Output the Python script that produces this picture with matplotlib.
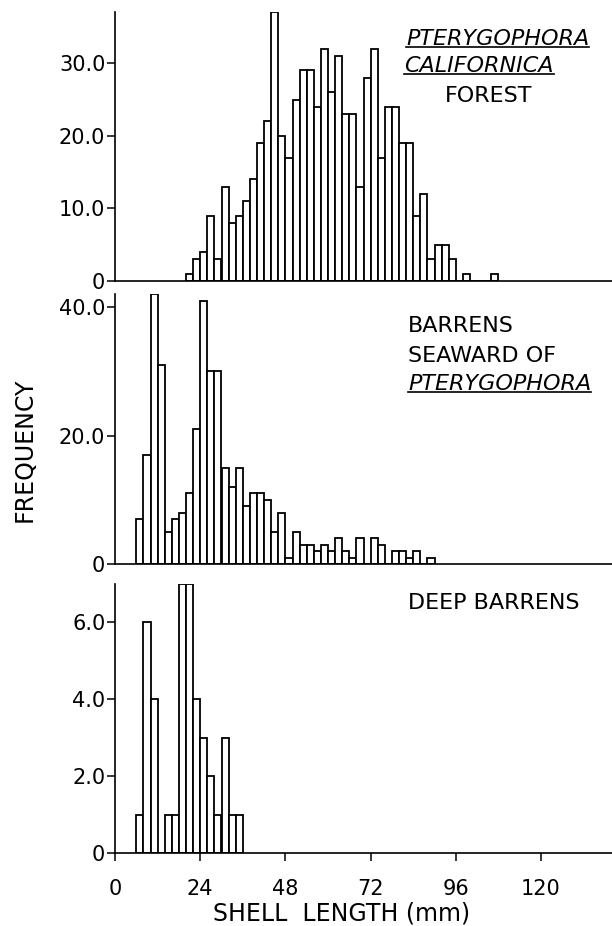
import matplotlib
matplotlib.use("Agg")
import matplotlib.pyplot as plt
from matplotlib.lines import Line2D

plt.rcParams['font.family'] = ['DejaVu Sans']

# shell length histograms, 2 mm bins; each list starts at the given left edge (mm)
bin_width = 2

forest_start = 20
forest_counts = [1, 3, 4, 9, 3, 13, 8, 9, 11, 14, 19, 22, 37, 20, 17, 25, 29, 29, 24, 32,
                 26, 31, 23, 23, 13, 28, 32, 17, 24, 24, 19, 19, 9, 12, 3, 5, 5, 3, 0, 1,
                 0, 0, 0, 1]

seaward_start = 6
seaward_counts = [7, 17, 42, 31, 5, 7, 8, 11, 21, 41, 30, 30, 15, 12, 15, 9, 11, 11, 10, 5,
                  8, 1, 5, 3, 3, 2, 3, 2, 4, 2, 1, 4, 0, 4, 3, 0, 2, 2, 1, 2, 0, 1]

deep_start = 6
deep_counts = [1, 6, 4, 0, 1, 1, 7, 7, 4, 3, 2, 1, 3, 1, 1]

x_ticks = [0, 24, 48, 72, 96, 120]
x_labels = ['0', '24', '48', '72', '96', '120']

forest_yticks = [0, 10, 20, 30]
forest_ylabels = ['0', '10.0', '20.0', '30.0']
seaward_yticks = [0, 20, 40]
seaward_ylabels = ['0', '20.0', '40.0']
deep_yticks = [0, 2, 4, 6]
deep_ylabels = ['0', '2.0', '4.0', '6.0']

W, H = 612, 926
fig = plt.figure(figsize=(W / 100, H / 100), dpi=100)

left = 115 / W
width = 1 - left

def make_axes(y_zero, y_top):
    return fig.add_axes([left, 1 - y_zero / H, width, (y_zero - y_top) / H])

ax1 = make_axes(281, 12.4)
ax2 = make_axes(564, 294.2)
ax3 = make_axes(853, 583.5)

panels = [
    (ax1, forest_start, forest_counts, 37, forest_yticks, forest_ylabels),
    (ax2, seaward_start, seaward_counts, 42, seaward_yticks, seaward_ylabels),
    (ax3, deep_start, deep_counts, 7, deep_yticks, deep_ylabels),
]

for ax, start, counts, ytop, yt, yl in panels:
    lefts = [start + i * bin_width for i in range(len(counts))]
    ax.bar(lefts, counts, width=bin_width, align='edge', color='white',
           edgecolor='black', linewidth=1.3)
    ax.set_xlim(0, 140)
    ax.set_ylim(0, ytop)
    ax.spines['top'].set_visible(False)
    ax.spines['right'].set_visible(False)
    ax.spines['left'].set_linewidth(1.2)
    ax.spines['bottom'].set_linewidth(1.2)
    ax.set_yticks(yt)
    ax.set_yticklabels(yl)
    ax.tick_params(axis='y', direction='out', length=6, width=1.1, pad=1, labelsize=15)
    ax.patch.set_alpha(0)

for ax in (ax1, ax2):
    ax.tick_params(axis='x', bottom=False, labelbottom=False)

ax3.set_xticks(x_ticks)
ax3.set_xticklabels(x_labels)
ax3.tick_params(axis='x', direction='out', length=6, width=1.1, pad=13, labelsize=15)

fig.text(342 / W, 1 - 914 / H, 'SHELL  LENGTH (mm)', ha='center', va='center', fontsize=17)
fig.text(25 / W, 1 - 450 / H, 'FREQUENCY', ha='center', va='center', rotation=90, fontsize=17)

def label(x, y, s, italic=False, ha='left'):
    return fig.text(x / W, 1 - y / H, s, ha=ha, va='center', fontsize=16,
                    style='italic' if italic else 'normal')

underlined = [
    label(406, 39, 'PTERYGOPHORA', italic=True),
    label(404, 66, 'CALIFORNICA', italic=True),
    label(408, 383.5, 'PTERYGOPHORA', italic=True),
]
label(489, 96, 'FOREST', ha='center')
label(408, 326, 'BARRENS')
label(408, 355.5, 'SEAWARD OF')
label(408, 603, 'DEEP BARRENS')

# underline the species names
fig.canvas.draw()
inv = fig.transFigure.inverted()
for t in underlined:
    bb = t.get_window_extent()
    (x0, y0), (x1, _) = inv.transform([(bb.x0, bb.y0 + 2), (bb.x1, bb.y0 + 2)])
    fig.add_artist(Line2D([x0, x1], [y0, y0], color='black', linewidth=1.2,
                          transform=fig.transFigure))

fig.savefig('out.png', dpi=100)
